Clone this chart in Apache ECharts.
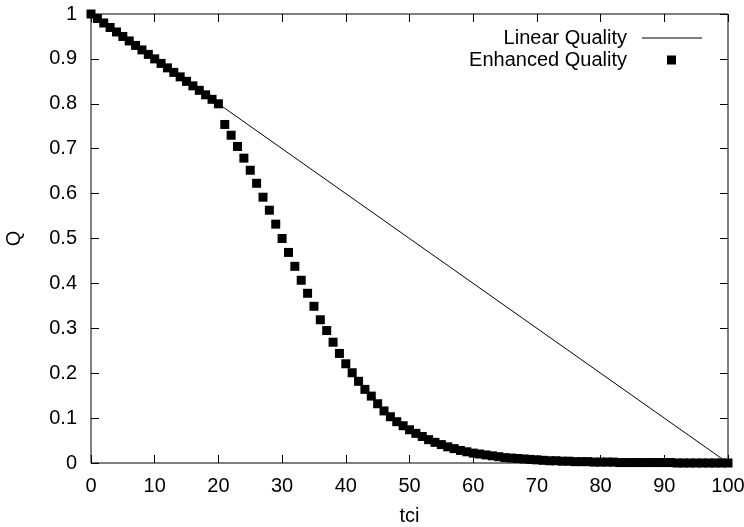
<!DOCTYPE html>
<html lang="en">
<head>
    <meta charset="UTF-8">
    <title>Quality</title>
    <script src="https://cdn.jsdelivr.net/npm/echarts@6/dist/echarts.min.js"></script>
    <style>
        body { margin: 0; background: #fff; }
        #main { width: 744px; height: 527px; }
    </style>
</head>
<body>
<div id="main"></div>
<script>
    // linear quality: straight line from (0,1) to (100,0)
    var linX = [0, 100];
    var linQ = [1, 0];

    // enhanced quality, one point per integer tci (0..100)
    var enhQ = [
        1.000, 0.990, 0.980, 0.970, 0.960, 0.950, 0.940, 0.930, 0.920, 0.910,
        0.900, 0.890, 0.880, 0.870, 0.860, 0.850, 0.840, 0.830, 0.820, 0.810,
        0.800, 0.754, 0.730, 0.705, 0.679, 0.652, 0.623, 0.592, 0.563, 0.532,
        0.500, 0.469, 0.438, 0.407, 0.378, 0.349, 0.319, 0.295, 0.269, 0.244,
        0.221, 0.201, 0.182, 0.164, 0.149, 0.132, 0.116, 0.103, 0.092, 0.083,
        0.074, 0.066, 0.059, 0.052, 0.046, 0.041, 0.036, 0.032, 0.028, 0.025,
        0.022, 0.020, 0.018, 0.016, 0.014, 0.012, 0.011, 0.010, 0.009, 0.008,
        0.007, 0.006, 0.005, 0.005, 0.004, 0.004, 0.003, 0.003, 0.003, 0.002,
        0.002, 0.002, 0.002, 0.001, 0.001, 0.001, 0.001, 0.001, 0.001, 0.001,
        0.001, 0.001, 0.000, 0.000, 0.000, 0.000, 0.000, 0.000, 0.000, 0.000,
        0.000
    ];

    var font = '"Liberation Sans", Arial, sans-serif';
    var fs = 20;

    var linData = linX.map(function (x, i) { return [x, linQ[i]]; });
    var enhData = enhQ.map(function (q, i) { return [i, q]; });

    function axisX(pos, labels) {
        return {
            type: 'value', position: pos, min: 0, max: 100, interval: 10,
            name: labels ? 'tci' : '', nameLocation: 'middle', nameGap: 43,
            nameTextStyle: { color: '#000', fontSize: fs, fontFamily: font },
            axisLine: { show: false, onZero: false },
            axisTick: { show: true, inside: true, length: 8, lineStyle: { color: '#000' } },
            axisLabel: { show: labels, color: '#000', fontSize: fs, fontFamily: font, margin: 13 },
            splitLine: { show: false }
        };
    }

    function axisY(pos, labels) {
        return {
            type: 'value', position: pos, min: 0, max: 1, interval: 0.1,
            name: labels ? 'Q' : '', nameLocation: 'middle', nameGap: 67, nameRotate: 90,
            nameTextStyle: { color: '#000', fontSize: fs, fontFamily: font },
            axisLine: { show: false, onZero: false },
            axisTick: { show: true, inside: true, length: 8, lineStyle: { color: '#000' } },
            axisLabel: { show: labels, color: '#000', fontSize: fs, fontFamily: font, margin: 14 },
            splitLine: { show: false }
        };
    }

    echarts.init(document.getElementById('main')).setOption({
        animation: false,
        backgroundColor: '#fff',
        grid: {
            left: 91, right: 16, top: 14, bottom: 64,
            outerBoundsMode: 'none', containLabel: false,
            show: true, borderColor: '#000', borderWidth: 1, backgroundColor: 'transparent'
        },
        xAxis: [axisX('bottom', true), axisX('top', false)],
        yAxis: [axisY('left', true), axisY('right', false)],
        legend: [
            {
                data: [{ name: 'Linear Quality', icon: 'rect' }],
                orient: 'vertical', align: 'right', right: 37, top: 23,
                itemWidth: 60, itemHeight: 1,
                textStyle: { color: '#000', fontSize: fs, fontFamily: font, padding: [0, 10, 0, 0] }
            },
            {
                data: [{ name: 'Enhanced Quality', icon: 'rect' }],
                orient: 'vertical', align: 'right', right: 63, top: 45,
                itemWidth: 9, itemHeight: 9,
                textStyle: { color: '#000', fontSize: fs, fontFamily: font, padding: [0, 35, 0, 0] }
            }
        ],
        series: [
            {
                name: 'Linear Quality', type: 'line', data: linData,
                showSymbol: false, symbol: 'none',
                lineStyle: { color: '#000', width: 1 },
                itemStyle: { color: '#000' }
            },
            {
                name: 'Enhanced Quality', type: 'scatter', data: enhData,
                symbol: 'rect', symbolSize: 9,
                itemStyle: { color: '#000', opacity: 1 }
            }
        ]
    });
</script>
</body>
</html>
